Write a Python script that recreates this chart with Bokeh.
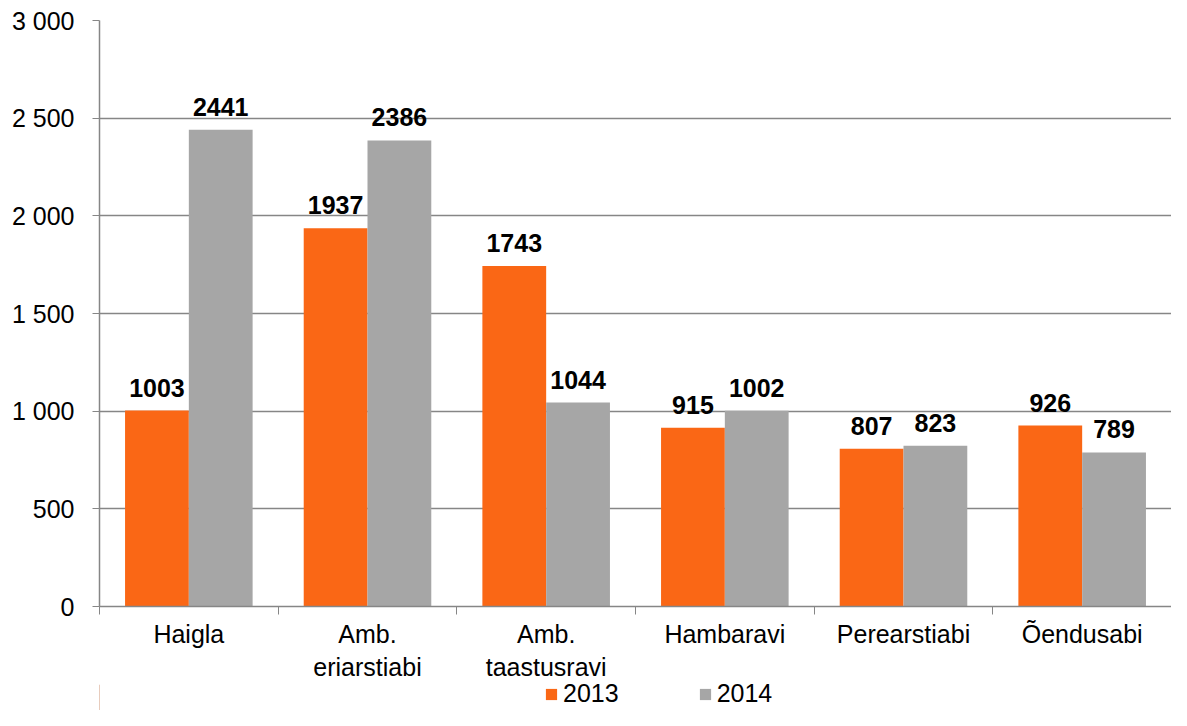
from bokeh.plotting import figure
from bokeh.layouts import column
from bokeh.models import ColumnDataSource, FixedTicker, LabelSet, Legend, LegendItem, Range1d
from bokeh.core.properties import value
from bokeh.embed import file_html
from bokeh.resources import INLINE

categories = ["Haigla", "Amb.\neriarstiabi", "Amb.\ntaastusravi", "Hambaravi", "Perearstiabi", "Õendusabi"]
series_names = ["2013", "2014"]
values_2013 = [1003, 1937, 1743, 915, 807, 926]
values_2014 = [2441, 2386, 1044, 1002, 823, 789]
y_ticks = [0, 500, 1000, 1500, 2000, 2500, 3000]
y_tick_labels = ["0", "500", "1 000", "1 500", "2 000", "2 500", "3 000"]

ORANGE = "#FA6715"
GRAY = "#A6A6A6"
LINE = "#868686"
FONT = "Liberation Sans"
FS = "25px"

n = len(categories)
bw = 0.357
x13 = [i + 0.5 - bw / 2 for i in range(n)]
x14 = [i + 0.5 + bw / 2 for i in range(n)]

W = 1171
LEFT = 99
p = figure(width=W, height=684, output_backend="svg", toolbar_location=None,
           x_range=Range1d(0, n), y_range=Range1d(0, 3000),
           min_border_left=LEFT, min_border_right=0, min_border_top=20, min_border_bottom=60)
p.outline_line_color = None

src13 = ColumnDataSource(dict(x=x13, y=values_2013, t=[str(v) for v in values_2013]))
src14 = ColumnDataSource(dict(x=x14, y=values_2014, t=[str(v) for v in values_2014]))

r13 = p.vbar(x="x", top="y", width=bw, bottom=0, source=src13, fill_color=ORANGE, line_color=None)
r14 = p.vbar(x="x", top="y", width=bw, bottom=0, source=src14, fill_color=GRAY, line_color=None)

for src in (src13, src14):
    p.add_layout(LabelSet(x="x", y="y", text="t", source=src, y_offset=14,
                          text_align="center", text_baseline="alphabetic",
                          text_font=value(FONT), text_font_size=value(FS),
                          text_font_style="bold", text_color="black"))

# y axis
p.yaxis.ticker = FixedTicker(ticks=y_ticks)
p.yaxis.major_label_overrides = {t: l for t, l in zip(y_ticks, y_tick_labels)}
p.yaxis.minor_tick_line_color = None
p.yaxis.major_tick_in = 0
p.yaxis.major_tick_out = 7
p.yaxis.major_tick_line_color = LINE
p.yaxis.axis_line_color = LINE
p.yaxis.axis_line_width = 1.5
p.yaxis.major_label_standoff = 18
p.yaxis.major_label_text_font = FONT
p.yaxis.major_label_text_font_size = FS
p.yaxis.major_label_text_color = "black"

# x axis: labels at category centres, ticks at category borders
centers = [i + 0.5 for i in range(n)]
p.xaxis.ticker = FixedTicker(ticks=centers, minor_ticks=list(range(n + 1)))
p.xaxis.major_label_overrides = {c: l for c, l in zip(centers, categories)}
p.xaxis.major_tick_in = 0
p.xaxis.major_tick_out = 0
p.xaxis.minor_tick_in = 0
p.xaxis.minor_tick_out = 8
p.xaxis.minor_tick_line_color = LINE
p.xaxis.axis_line_color = LINE
p.xaxis.axis_line_width = 1.5
p.xaxis.major_label_standoff = 5
p.xaxis.major_label_text_font = FONT
p.xaxis.major_label_text_font_size = FS
p.xaxis.major_label_text_color = "black"

p.xgrid.visible = False
p.ygrid.grid_line_color = LINE
p.ygrid.grid_line_width = 1.5

# legend strip below the chart
lg = figure(width=W, height=26, output_backend="svg", toolbar_location=None,
            x_range=Range1d(0, 1), y_range=Range1d(0, 1),
            x_axis_type=None, y_axis_type=None,
            min_border_left=LEFT, min_border_right=0, min_border_top=0, min_border_bottom=0)
lg.grid.visible = False
lg.outline_line_color = None
e13 = lg.vbar(x=[-5], top=[1], width=0.1, fill_color=ORANGE, line_color=None)
e14 = lg.vbar(x=[-5], top=[1], width=0.1, fill_color=GRAY, line_color=None)
legend = Legend(items=[LegendItem(label=series_names[0], renderers=[e13]),
                       LegendItem(label=series_names[1], renderers=[e14])],
                orientation="horizontal", location=(445, 2),
                label_text_font=FONT, label_text_font_size=FS, label_text_color="black",
                label_text_baseline="middle",
                glyph_width=14, glyph_height=14, label_standoff=5, spacing=79,
                padding=0, margin=0, border_line_color=None, background_fill_alpha=0,
                label_height=22)
lg.add_layout(legend, "center")

layout = column(p, lg, spacing=0)
open("out.html", "w").write(file_html(layout, INLINE))
